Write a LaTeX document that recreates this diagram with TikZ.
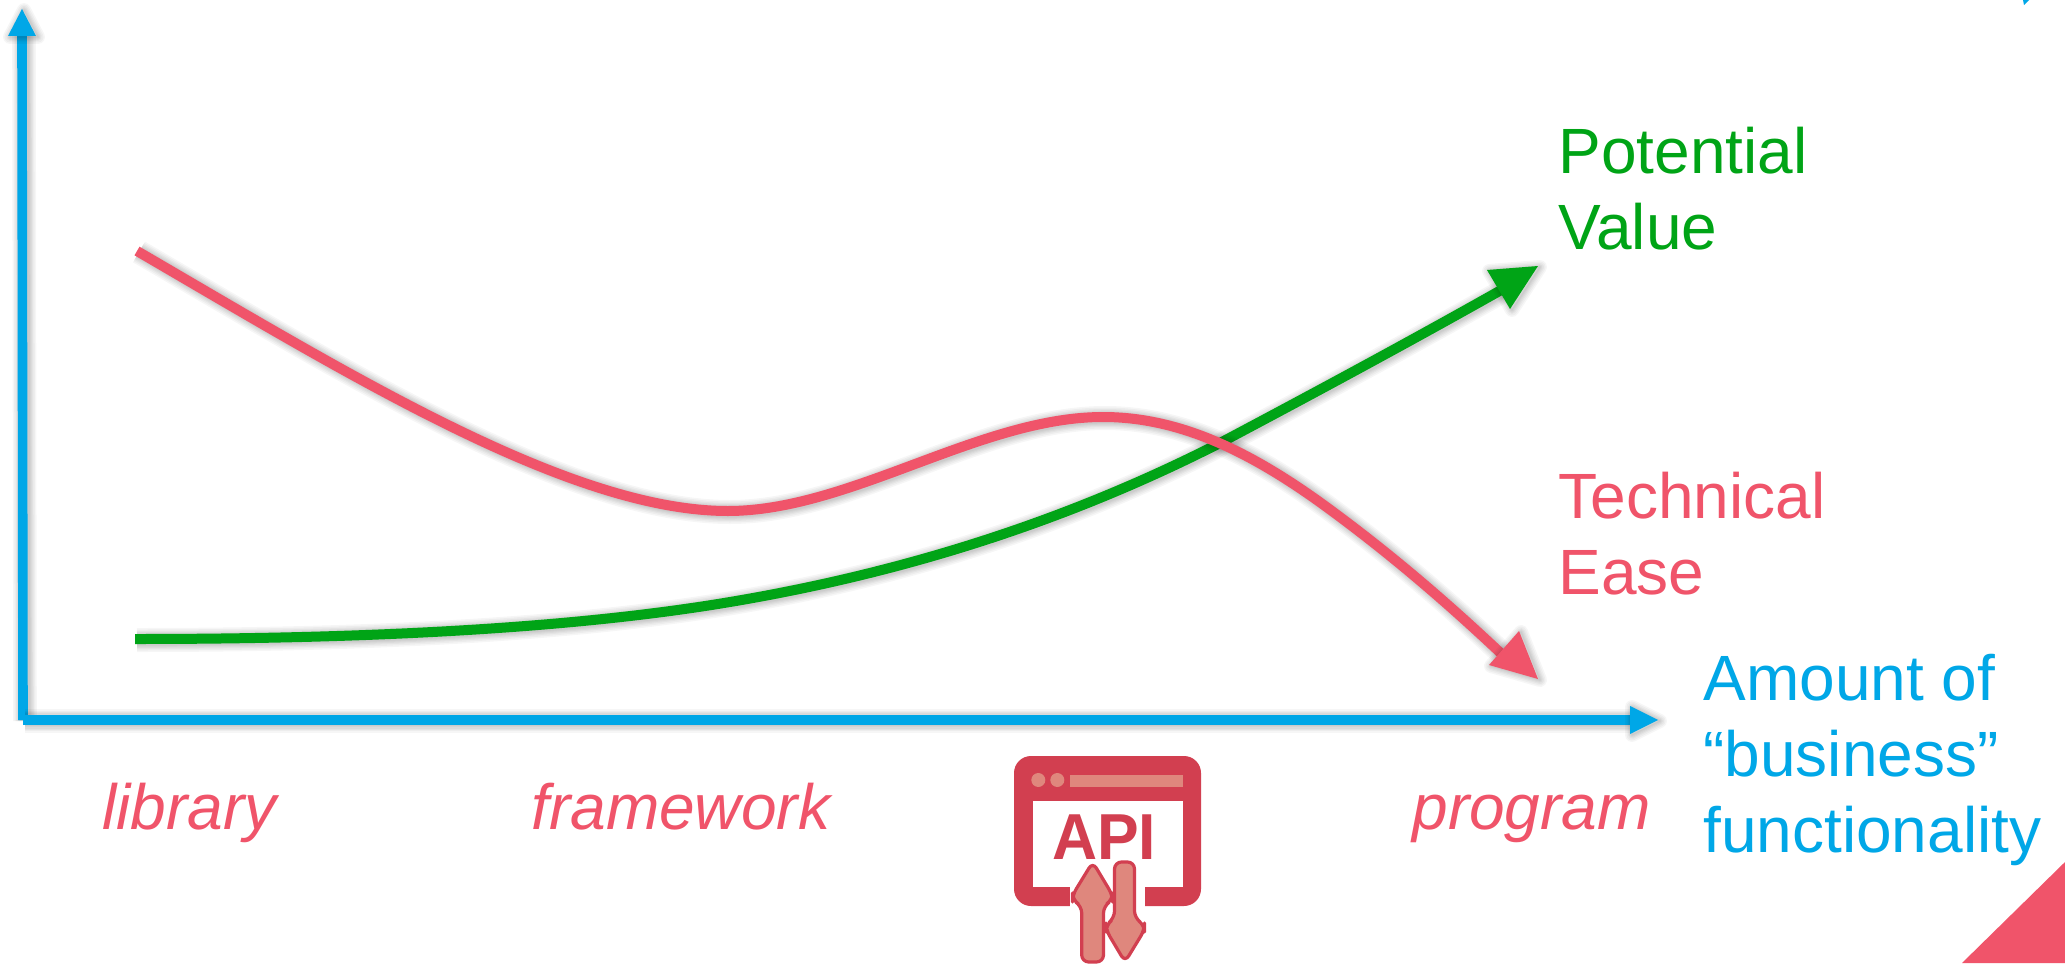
\documentclass[tikz,border=0pt]{standalone}
\usepackage{fontspec}
\setmainfont{Liberation Sans}
\definecolor{axisblue}{HTML}{00A7E7}
\definecolor{valgreen}{HTML}{00A416}
\definecolor{easered}{HTML}{F0546A}
\definecolor{apired}{HTML}{D23F50}
\definecolor{apilight}{HTML}{DF877D}
\tikzset{
  softa/.style={draw=black,draw opacity=.035,fill=none,line width=#1,line join=round,transform canvas={shift={(1pt,-.5pt)}}},
  soft/.style={preaction={softa=#1+7pt},preaction={softa=#1+5.5pt},preaction={softa=#1+4pt},preaction={softa=#1+2.8pt},preaction={softa=#1+1.6pt},preaction={softa=#1+.6pt}},
  curveline/.style={soft=5pt,line width=5pt},
  axisline/.style={soft=4.8pt,draw=axisblue,line width=4.8pt},
  headtri/.style={soft=0pt,draw=none},
  bigtext/.style={font=\fontsize{32}{38}\selectfont,inner sep=0pt,anchor=base west,align=left},
  joblabel/.style={font=\fontsize{32}{38}\selectfont\itshape,text=easered,inner sep=0pt,anchor=base west},
  apiarrow/.style={fill=apilight,draw=apired,line width=1.6pt,rounded corners=3.5pt,line join=round},
}
\begin{document}
\begin{tikzpicture}[x=0.5pt,y=-0.5pt]
\useasboundingbox (0,0) rectangle (2065,963);
\fill[white] (0,0) rectangle (2065,963);
% named points
\coordinate (origin) at (23,720);
\coordinate (ytop) at (22,34);
\coordinate (xend) at (1632,720);
\coordinate (gs) at (135,639);
\coordinate (ge) at (1510,285);
\coordinate (rs) at (137,251);
\coordinate (re) at (1508,660);
% axes
\draw[axisline] (origin) -- (ytop);
\fill[axisblue,headtri] (22,9) -- (36,36) -- (8,36) -- cycle;
\draw[axisline] (origin) -- (xend);
\fill[axisblue,headtri] (1658,720) -- (1630,706) -- (1630,734) -- cycle;
% potential value
\draw[curveline,draw=valgreen] (gs) .. controls (350,639) and (560,630) .. (724,603)
  .. controls (900,574) and (1065,522) .. (1220,443)
  .. controls (1320,390) and (1420,336) .. (ge);
\fill[valgreen,headtri] (1538,266) -- (1487,270) -- (1510,309) -- cycle;
% technical ease
\draw[curveline,draw=easered] (rs) .. controls (350,375) and (570,511) .. (728,511)
  .. controls (850,511) and (980,417) .. (1103,417)
  .. controls (1180,417) and (1250,452) .. (1321,503)
  .. controls (1390,553) and (1450,605) .. (re);
\fill[easered,headtri] (1538,679) -- (1489,665) -- (1519,631) -- cycle;
% labels
\node[bigtext,text=valgreen] (potential) at (1558,249) {Potential\\Value};
\node[bigtext,text=easered] (technical) at (1558,594) {Technical\\Ease};
\node[bigtext,text=axisblue] (amount) at (1703,852) {Amount of\\“business”\\functionality};
\node[joblabel] (library) at (102,829) {library};
\node[joblabel] (framework) at (531,829) {framework};
\node[joblabel] (program) at (1412,829) {program};
% API icon
\fill[apired,rounded corners=8.5pt] (1014,756) rectangle (1201,906);
\fill[white] (1033,801) rectangle (1183,887);
\fill[white] (1070,880) rectangle (1145,907);
\fill[apilight] (1070,775) rectangle (1183,787);
\fill[apilight] (1038.3,780) circle[radius=7];
\fill[apilight] (1057.3,780) circle[radius=7];
\node[font=\fontsize{32.5}{32.5}\selectfont\bfseries,text=apired,inner sep=0pt,anchor=base,xscale=.96] (api) at (1104,859.5) {API};
\draw[apiarrow] (1092.7,862) -- (1112.5,895) -- (1112.5,900) -- (1103.5,906) -- (1103.5,962) -- (1081.7,962) -- (1081.7,906) -- (1072.5,900) -- (1072.5,895) -- cycle;
\draw[apiarrow] (1114.5,862) -- (1134.5,862) -- (1134.5,918) -- (1144.5,925) -- (1144.5,930) -- (1125,962) -- (1106,930) -- (1106,925) -- (1114.5,918) -- cycle;
% corner shapes
\fill[easered] (2065,862) -- (1962,963) -- (2065,963) -- cycle;
\fill[axisblue] (2023,0) -- (2029,0) -- (2024,5) -- cycle;
\end{tikzpicture}
\end{document}
